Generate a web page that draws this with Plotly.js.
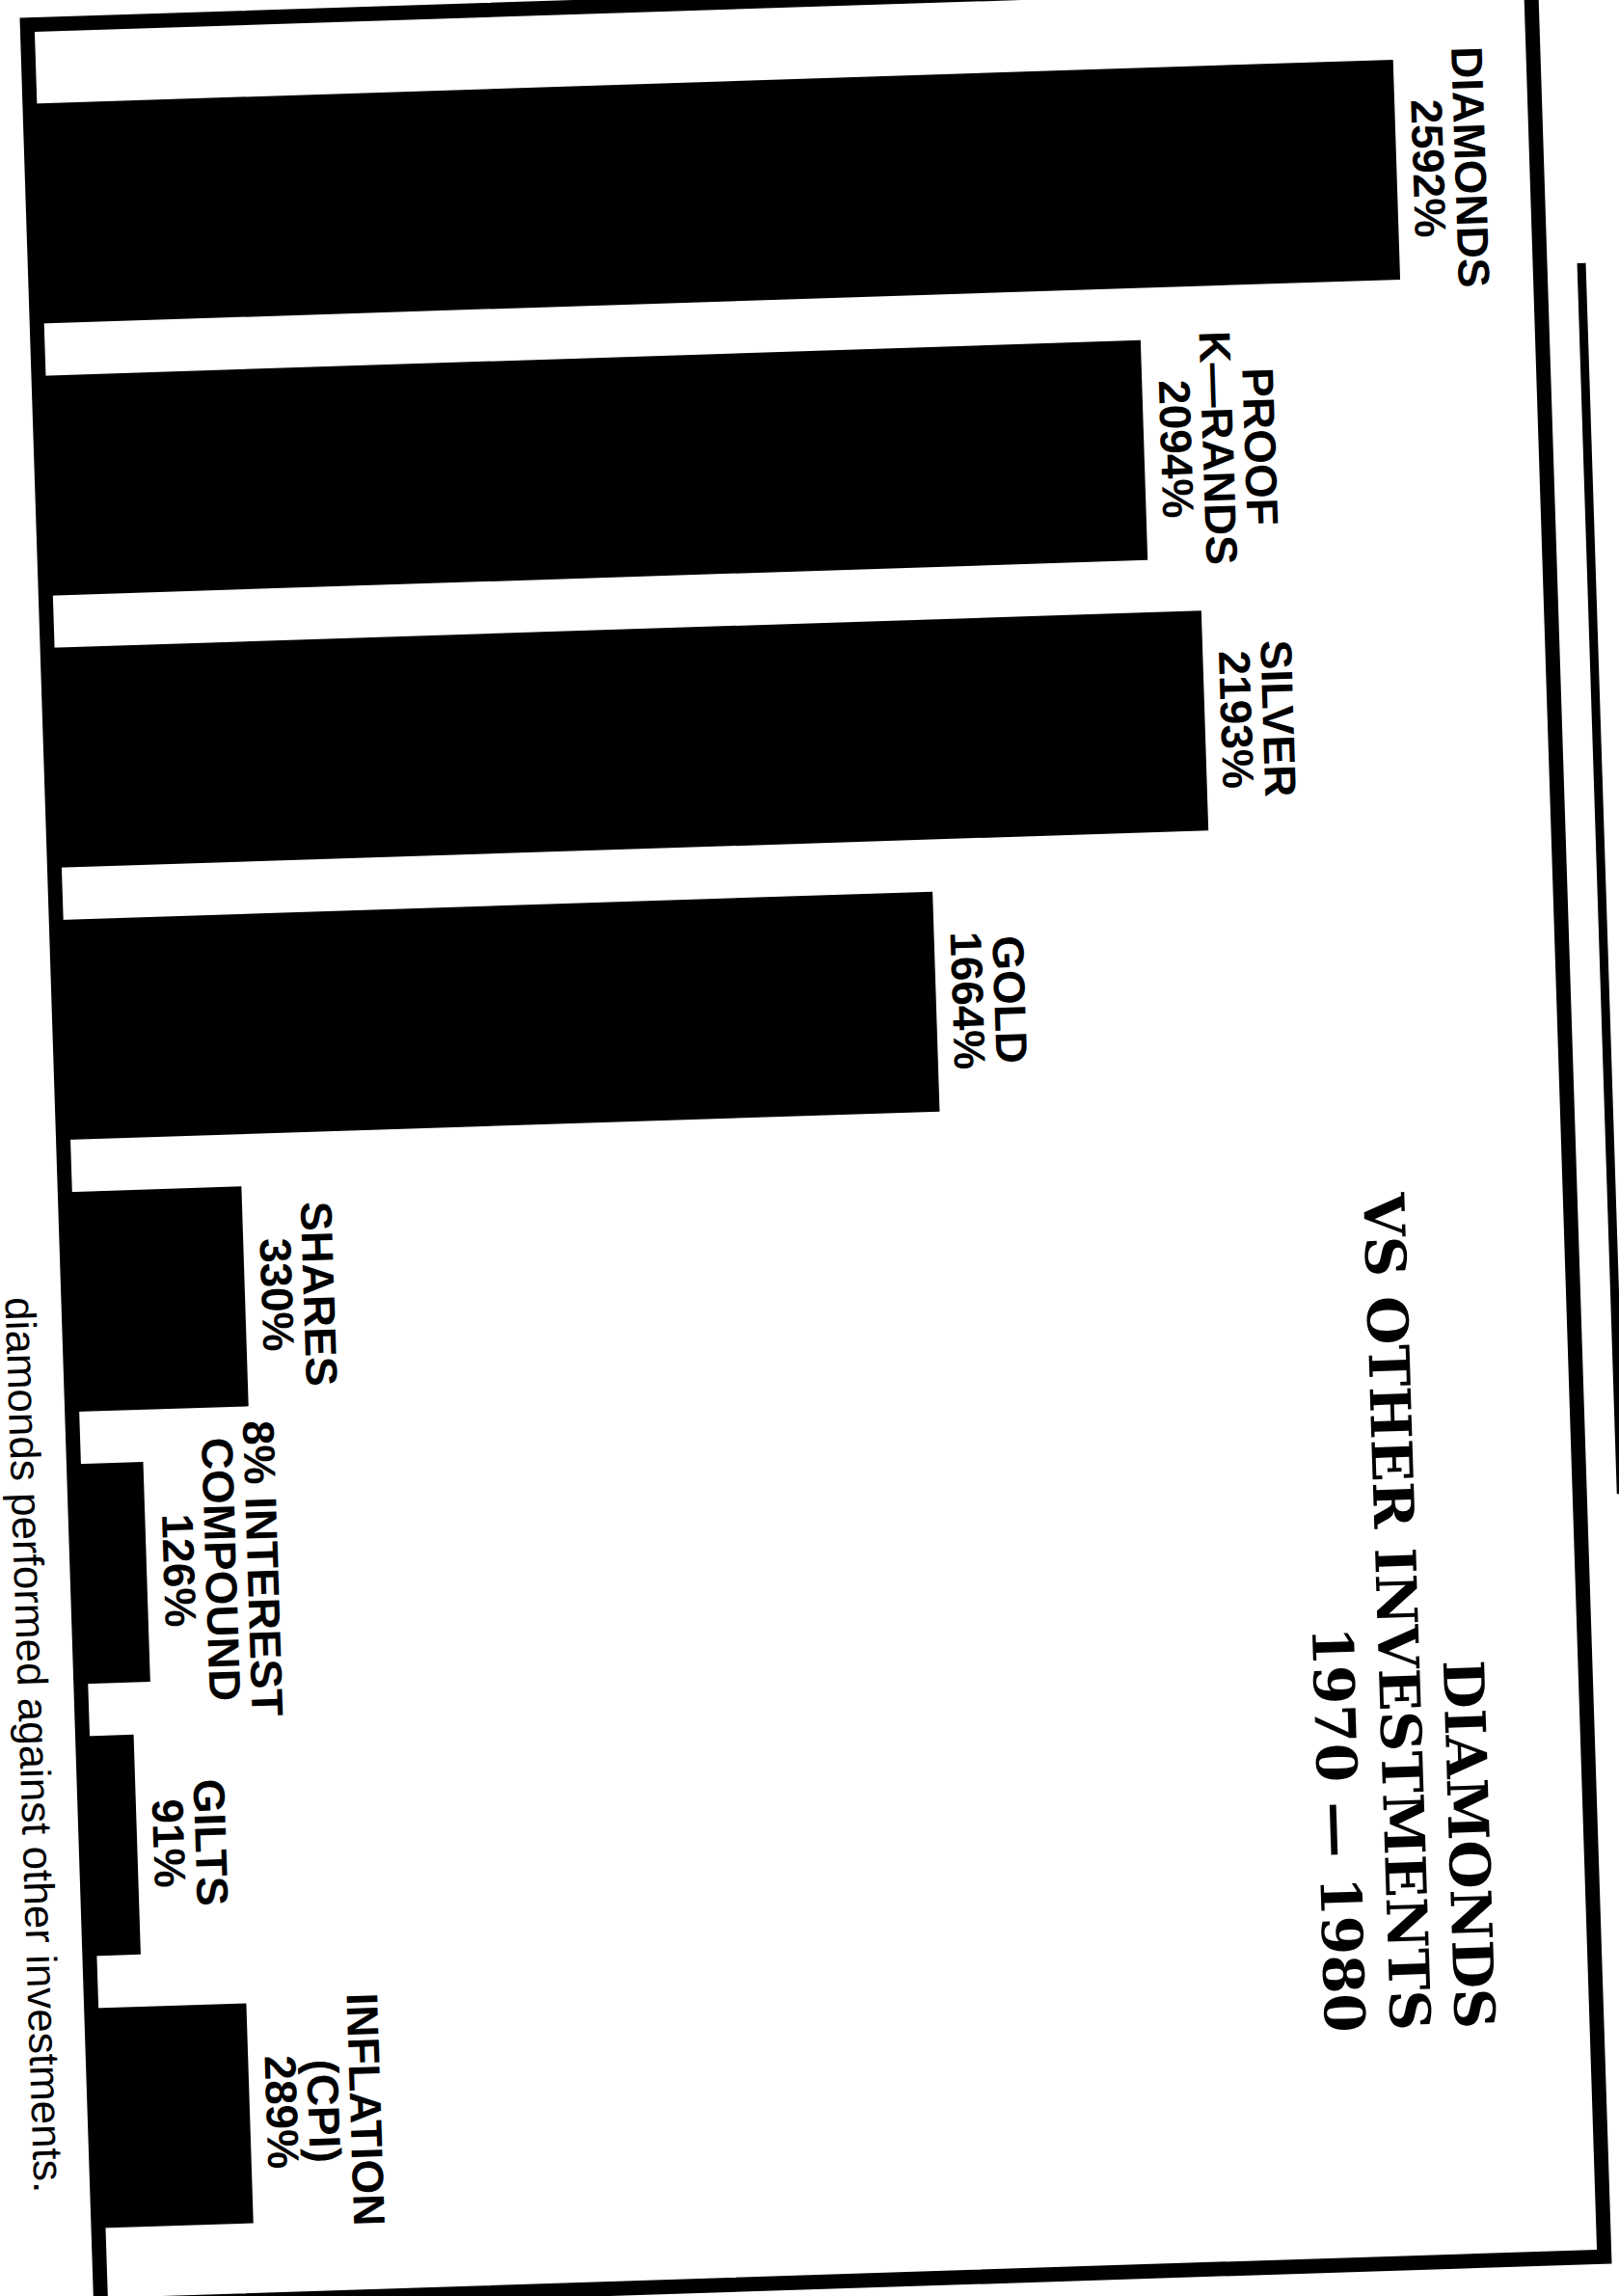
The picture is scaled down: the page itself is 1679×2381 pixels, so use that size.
<!DOCTYPE html>
<html>
<head>
<meta charset="utf-8">
<script src="https://cdn.plot.ly/plotly-3.0.1.min.js"></script>
<style>
  html, body { margin: 0; padding: 0; background: #fff; overflow: hidden; width: 1679px; height: 2381px; }
  /* the printed panel sits slightly askew on the page */
  #chart { position: absolute; left: -54px; top: -67px; width: 1800px; height: 2500px;
           transform: rotate(-1.85deg); transform-origin: 900px 1250px; }
</style>
</head>
<body>
<div id="chart"></div>
<script>
// Growth of each investment, 1970-1980 (per cent)
const categories = ['DIAMONDS', 'PROOF K—RANDS', 'SILVER', 'GOLD', 'SHARES',
                    '8% INTEREST COMPOUND', 'GILTS', 'INFLATION (CPI)'];
const nameLines = [['DIAMONDS'], ['PROOF', 'K—RANDS'], ['SILVER'], ['GOLD'], ['SHARES'],
                   ['8% INTEREST', 'COMPOUND'], ['GILTS'], ['INFLATION', '(CPI)']];
const growthPct = [2592, 2094, 2193, 1664, 330, 126, 91, 289];

const titleLines = ['DIAMONDS', 'VS OTHER INVESTMENTS', '1970 — 1980'];
const captionText = 'diamonds performed against other investments.';

// page geometry (the panel is drawn upright, then turned with CSS)
const W = 1800, H = 2500;
const M = { l: 120, r: 120, t: 67, b: 67 };
const plotW = W - M.l - M.r, plotH = H - M.t - M.b;
const paperX = px => (px - M.l) / plotW;
const paperY = py => 1 - (py - M.t) / plotH;

const pxPerPct = 0.5444;          // bar length scale
const zeroPx = 123.5;             // where bars start, just under the frame
const xMin = -(zeroPx - M.l) / pxPerPct;
const xMax = xMin + plotW / pxPerPct;

const labelFont = { family: "'Liberation Sans', Arial, sans-serif", size: 46, color: '#000' };
const titleFont = { family: "'DejaVu Serif', serif", size: 58, color: '#000' };
const captionFont = { family: "'Liberation Sans', Arial, sans-serif", size: 44, color: '#000' };

const annotations = [];

// value labels, stacked outward from the bar end, reading top to bottom
const labelGap = 17, linePitch = 43.5;
categories.forEach((cat, i) => {
  const lines = nameLines[i].concat([growthPct[i] + '%']);
  const n = lines.length;
  lines.forEach((line, j) => {
    const k = n - 1 - j;
    annotations.push({
      xref: 'x', yref: 'y', x: growthPct[i], y: cat,
      text: '<b>' + line + '</b>', textangle: 90, showarrow: false,
      xanchor: 'left', yanchor: 'middle',
      xshift: labelGap - 0.212 * labelFont.size + linePitch * k,
      font: labelFont, borderpad: 0, borderwidth: 0
    });
  });
});

// heading, right-aligned block
const titleBaselines = [1532.6, 1465.7, 1398.4];
titleLines.forEach((line, j) => {
  annotations.push({
    xref: 'paper', yref: 'paper',
    x: paperX(titleBaselines[j] - 0.236 * titleFont.size), y: paperY(2192),
    text: '<b>' + line + '</b>', textangle: 90, showarrow: false,
    xanchor: 'left', yanchor: 'bottom',
    font: titleFont, borderpad: 0, borderwidth: 0
  });
});

// caption below the panel
annotations.push({
  xref: 'paper', yref: 'paper',
  x: paperX(55 - 0.212 * captionFont.size), y: paperY(2314),
  text: captionText, textangle: 90, showarrow: false,
  xanchor: 'left', yanchor: 'bottom',
  font: captionFont, borderpad: 0, borderwidth: 0
});

const trace = {
  type: 'bar', orientation: 'h',
  y: categories, x: growthPct,
  marker: { color: '#000', line: { width: 0 } },
  hoverinfo: 'skip'
};

const layout = {
  width: W, height: H, autosize: false,
  margin: M,
  paper_bgcolor: '#fff', plot_bgcolor: '#fff',
  showlegend: false,
  bargap: 0.192,
  xaxis: { range: [xMin, xMax], showgrid: false, zeroline: false, showline: false,
           showticklabels: false, ticks: '' },
  yaxis: { type: 'category', categoryorder: 'array', categoryarray: categories,
           range: [7.687, -0.694], showgrid: false, zeroline: false, showline: false,
           showticklabels: false, ticks: '' },
  shapes: [
    { type: 'rect', xref: 'paper', yref: 'paper', x0: 0, x1: 1, y0: 0, y1: 1,
      line: { color: '#000', width: 15 }, layer: 'above' },
    { type: 'line', xref: 'paper', yref: 'paper',
      x0: paperX(1723), x1: paperX(1723), y0: paperY(366), y1: paperY(1643),
      line: { color: '#000', width: 9 } }
  ],
  annotations: annotations
};

Plotly.newPlot('chart', [trace], layout, { staticPlot: true, displayModeBar: false });
</script>
</body>
</html>
